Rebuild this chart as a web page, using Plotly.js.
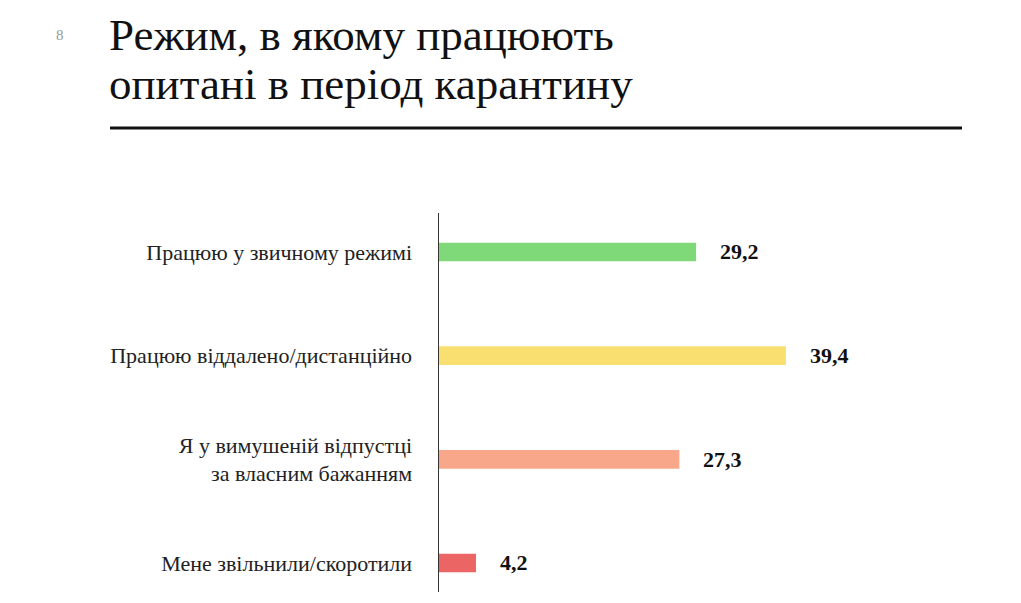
<!DOCTYPE html>
<html>
<head>
<meta charset="utf-8">
<script src="https://cdn.plot.ly/plotly-3.0.1.min.js"></script>
<style>html,body{margin:0;padding:0;background:#fff;}#chart{width:1021px;height:603px;}</style>
</head>
<body>
<div id="chart"></div>
<script>
var categories = [
  "Працюю у звичному режимі",
  "Працюю віддалено/дистанційно",
  "Я у вимушеній відпустці<br>за власним бажанням",
  "Мене звільнили/скоротили"
];
var values = [29.2, 39.4, 27.3, 4.2];
var barColors = ["#7fd978", "#f8df70", "#f8a78b", "#ec6565"];
var titleLines = ["Режим, в якому працюють", "опитані в період карантину"];
var pageNumber = "8";

var serif = "Liberation Serif, Times New Roman, serif";

var trace = {
  type: "bar",
  orientation: "h",
  y: categories,
  x: values,
  width: 0.18,
  marker: {color: barColors},
  hoverinfo: "none"
};

var annotations = values.map(function (v, i) {
  return {
    x: v, y: categories[i], xref: "x", yref: "y",
    text: "<b>" + v.toFixed(1).replace(".", ",") + "</b>",
    showarrow: false, xanchor: "left", yanchor: "middle", xshift: 22,
    font: {family: serif, size: 22, color: "#111"}
  };
});

annotations.push({
  xref: "paper", yref: "paper", x: -0.635, y: 1, xanchor: "left", yanchor: "bottom",
  yshift: 151, text: titleLines[0], showarrow: false,
  font: {family: serif, size: 45, color: "#111"}
});
annotations.push({
  xref: "paper", yref: "paper", x: -0.635, y: 1, xanchor: "left", yanchor: "bottom",
  yshift: 102, text: titleLines[1], showarrow: false,
  font: {family: serif, size: 45, color: "#111"}
});
annotations.push({
  xref: "paper", yref: "paper", x: -0.725, y: 1, xanchor: "center", yanchor: "bottom",
  yshift: 168, text: pageNumber, showarrow: false,
  font: {family: serif, size: 15, color: "#999"}
});

var layout = {
  width: 1021, height: 603,
  margin: {l: 439, r: 59, t: 213, b: 11, pad: 0},
  paper_bgcolor: "#fff", plot_bgcolor: "#fff",
  showlegend: false,
  xaxis: {range: [0, 59.4], showgrid: false, zeroline: false, showline: false,
          showticklabels: false, ticks: "", fixedrange: true},
  yaxis: {type: "category", categoryorder: "array", categoryarray: categories,
          range: [3.28, -0.376], showgrid: false, zeroline: false,
          showline: true, linecolor: "#333", linewidth: 1.5,
          ticks: "", ticklabelstandoff: 21,
          tickfont: {family: serif, size: 22, color: "#222"}, fixedrange: true},
  shapes: [{
    type: "line", xref: "paper", yref: "paper",
    x0: -0.629, x1: 1, y0: 85, y1: 85, ysizemode: "pixel", yanchor: 1,
    line: {color: "#111", width: 3}
  }],
  annotations: annotations
};

Plotly.newPlot("chart", [trace], layout, {displayModeBar: false, staticPlot: true});
</script>
</body>
</html>
